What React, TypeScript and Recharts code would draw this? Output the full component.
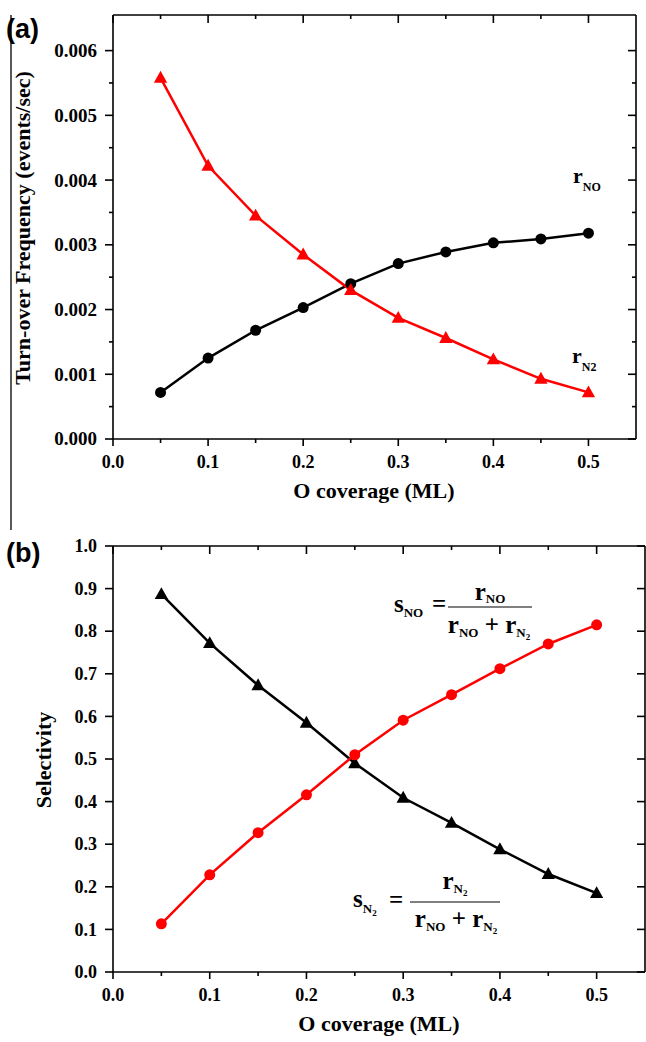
import React from 'react';
import { LineChart, Line, XAxis, YAxis } from 'recharts';

// O coverage (ML)
const coverage = [0.05, 0.1, 0.15, 0.2, 0.25, 0.3, 0.35, 0.4, 0.45, 0.5];

// (a) turn-over frequency, events/sec
const rNO = [0.00072, 0.00125, 0.00168, 0.00203, 0.0024, 0.00271, 0.00289, 0.00303, 0.00309, 0.00318];
const rN2 = [0.00558, 0.00422, 0.00345, 0.00285, 0.0023, 0.00187, 0.00156, 0.00123, 0.00093, 0.00072];

// (b) selectivity
const sNO = [0.113, 0.228, 0.327, 0.416, 0.51, 0.591, 0.651, 0.712, 0.77, 0.815];
const sN2 = [0.887, 0.772, 0.673, 0.585, 0.49, 0.409, 0.35, 0.288, 0.23, 0.185];

const xTicks = [0, 0.05, 0.1, 0.15, 0.2, 0.25, 0.3, 0.35, 0.4, 0.45, 0.5];
const tofTicks = [0, 0.0005, 0.001, 0.0015, 0.002, 0.0025, 0.003, 0.0035, 0.004, 0.0045, 0.005, 0.0055, 0.006];
const selTicks = [0, 0.05, 0.1, 0.15, 0.2, 0.25, 0.3, 0.35, 0.4, 0.45, 0.5, 0.55, 0.6, 0.65, 0.7, 0.75, 0.8, 0.85, 0.9, 0.95, 1.0];

const topData = coverage.map((x, i) => ({ x, rNO: rNO[i], rN2: rN2[i] }));
const bottomData = coverage.map((x, i) => ({ x, sNO: sNO[i], sN2: sN2[i] }));

const SERIF = '"Liberation Serif", "Times New Roman", serif';
const RED = '#ff0000';
const axisLine = { stroke: '#000', strokeWidth: 1.6 };

const isMajorX = (v: number) => Math.round(v * 100) % 10 === 0;
const isMajorTof = (v: number) => Math.round(v * 10000) % 10 === 0;
const xFmt = (v: number) => v.toFixed(1);
const tofFmt = (v: number) => v.toFixed(3);

type Side = 'left' | 'right' | 'top' | 'bottom';

// draws major/minor tick marks (and labels on majors) from the axis' own tick positions
const makeTick = (side: Side, isMajor: (v: number) => boolean, fmt?: (v: number) => string, fontSize = 18) =>
  (props: any) => {
    const { x, y, payload, index } = props;
    const v = payload.value;
    const major = isMajor(v);
    const len = major ? 8 : 4;
    const ln = { stroke: '#000', strokeWidth: 1.6 };
    const txt = { fill: '#000', fontSize, fontWeight: 'bold' as const, style: { fontFamily: SERIF } };
    let line;
    let label = null;
    if (side === 'left') {
      line = <line x1={x - len} y1={y} x2={x} y2={y} {...ln} />;
      if (fmt && major) label = <text x={x - 16} y={y} dy="0.34em" textAnchor="end" {...txt}>{fmt(v)}</text>;
    } else if (side === 'right') {
      line = <line x1={x - len} y1={y} x2={x} y2={y} {...ln} />;
    } else if (side === 'top') {
      line = <line x1={x} y1={y} x2={x} y2={y + len} {...ln} />;
    } else {
      line = <line x1={x} y1={y} x2={x} y2={y + (major ? 7 : 4)} {...ln} />;
      if (fmt && major) label = <text x={x} y={y + 29} textAnchor="middle" {...txt}>{fmt(v)}</text>;
    }
    return (
      <g key={`${side}-${index}`}>
        {line}
        {label}
      </g>
    );
  };

const circleDot = (color: string) => (props: any) => (
  <circle key={`c${props.index}`} cx={props.cx} cy={props.cy} r={5.5} fill={color} stroke="none" />
);

const triangleDot = (color: string) => (props: any) => {
  const { cx, cy } = props;
  const s = 7;
  return (
    <polygon
      key={`t${props.index}`}
      points={`${cx},${cy - s} ${cx + s * 0.95},${cy + s * 0.7} ${cx - s * 0.95},${cy + s * 0.7}`}
      fill={color}
    />
  );
};

function axes(yDomain: [number, number], yTicks: number[], isMajorY: (v: number) => boolean,
  yFmt: (v: number) => string, yFont: number, xAxisHeight: number) {
  return [
    <XAxis
      key="xb"
      dataKey="x"
      type="number"
      domain={[0, 0.55]}
      ticks={xTicks}
      allowDataOverflow
      height={xAxisHeight}
      tickSize={0}
      tickMargin={0}
      tickLine={false}
      tick={makeTick('bottom', isMajorX, xFmt)}
      axisLine={axisLine}
    />,
    <XAxis
      key="xt"
      xAxisId="top"
      dataKey="x"
      type="number"
      orientation="top"
      domain={[0, 0.55]}
      ticks={xTicks}
      allowDataOverflow
      height={1}
      mirror
      tickSize={0}
      tickMargin={0}
      tickLine={false}
      tick={makeTick('top', isMajorX)}
      axisLine={axisLine}
    />,
    <YAxis
      key="yl"
      type="number"
      domain={yDomain}
      ticks={yTicks}
      allowDataOverflow
      width={113}
      tickSize={0}
      tickMargin={0}
      tickLine={false}
      tick={makeTick('left', isMajorY, yFmt, yFont)}
      axisLine={axisLine}
    />,
    <YAxis
      key="yr"
      yAxisId="right"
      type="number"
      orientation="right"
      domain={yDomain}
      ticks={yTicks}
      allowDataOverflow
      width={1}
      mirror
      tickSize={0}
      tickMargin={0}
      tickLine={false}
      tick={makeTick('right', isMajorY)}
      axisLine={axisLine}
    />,
  ];
}

function TopChart() {
  return (
    <LineChart width={646} height={500} data={topData} margin={{ top: 15, right: 10, bottom: 0, left: 0 }}>
      {axes([0, 0.00655], tofTicks, isMajorTof, tofFmt, 19, 61)}
      <Line dataKey="rNO" stroke="#000" strokeWidth={2.5} dot={circleDot('#000')} isAnimationActive={false} />
      <Line dataKey="rN2" stroke={RED} strokeWidth={2.5} dot={triangleDot(RED)} isAnimationActive={false} />
      <Line xAxisId="top" yAxisId="right" dataKey="rNO" stroke="none" dot={false} activeDot={false} isAnimationActive={false} />
    </LineChart>
  );
}

function BottomChart() {
  return (
    <LineChart width={646} height={542} data={bottomData} margin={{ top: 46, right: 1, bottom: 0, left: 0 }}>
      {axes([0, 1], selTicks, isMajorX, xFmt, 18, 70)}
      <Line dataKey="sN2" stroke="#000" strokeWidth={2.5} dot={triangleDot('#000')} isAnimationActive={false} />
      <Line dataKey="sNO" stroke={RED} strokeWidth={2.5} dot={circleDot(RED)} isAnimationActive={false} />
      <Line xAxisId="top" yAxisId="right" dataKey="sNO" stroke="none" dot={false} activeDot={false} isAnimationActive={false} />
    </LineChart>
  );
}

function Annotations() {
  const t = { fontWeight: 'bold' as const, fill: '#000', style: { fontFamily: SERIF } };
  const sans = { fontWeight: 'bold' as const, fill: '#000', style: { fontFamily: '"Liberation Sans", Arial, sans-serif' } };
  return (
    <svg width={646} height={1042} style={{ position: 'absolute', left: 0, top: 0, pointerEvents: 'none' }}>
      <line x1={11} y1={15} x2={11} y2={530} stroke="#222" strokeWidth={1.5} />
      <text {...sans} x={6} y={38} fontSize={27}>(a)</text>
      <text {...sans} x={6} y={562} fontSize={27}>(b)</text>

      <text {...t} fontSize={22} textAnchor="middle" transform="translate(30,228) rotate(-90)">
        Turn-over Frequency (events/sec)
      </text>
      <text {...t} fontSize={22} textAnchor="middle" x={374} y={498}>O coverage (ML)</text>
      <text {...t} fontSize={22} textAnchor="middle" transform="translate(51,760) rotate(-90)">Selectivity</text>
      <text {...t} fontSize={22} textAnchor="middle" x={379} y={1031}>O coverage (ML)</text>

      <text {...t} fontSize={22} x={573} y={183}>
        r<tspan fontSize={12} dy={8}>NO</tspan>
      </text>
      <text {...t} fontSize={22} x={572} y={363}>
        r<tspan fontSize={12} dy={8}>N2</tspan>
      </text>

      {/* s_NO = r_NO / (r_NO + r_N2) */}
      <text {...t} fontSize={25} x={394} y={612}>
        s<tspan fontSize={13} dy={5}>NO</tspan>
      </text>
      <text {...t} fontSize={25} x={432} y={612}>=</text>
      <line x1={448} y1={607} x2={532} y2={607} stroke="#000" strokeWidth={1} />
      <text {...t} fontSize={25} x={490} y={600} textAnchor="middle">
        r<tspan fontSize={13} dy={3}>NO</tspan>
      </text>
      <text {...t} fontSize={25} x={489} y={633} textAnchor="middle">
        r<tspan fontSize={13} dy={4}>NO</tspan>
        <tspan dy={-4}> + r</tspan>
        <tspan fontSize={13} dy={4}>N</tspan>
        <tspan fontSize={9} dy={3}>2</tspan>
      </text>

      {/* s_N2 = r_N2 / (r_NO + r_N2) */}
      <text {...t} fontSize={25} x={353} y={907}>
        s<tspan fontSize={13} dy={6}>N</tspan>
        <tspan fontSize={9} dy={3}>2</tspan>
      </text>
      <text {...t} fontSize={25} x={389} y={908}>=</text>
      <line x1={410} y1={902} x2={500} y2={902} stroke="#000" strokeWidth={1} />
      <text {...t} fontSize={25} x={455} y={889} textAnchor="middle">
        r<tspan fontSize={13} dy={4}>N</tspan>
        <tspan fontSize={9} dy={3}>2</tspan>
      </text>
      <text {...t} fontSize={25} x={456} y={927} textAnchor="middle">
        r<tspan fontSize={13} dy={4}>NO</tspan>
        <tspan dy={-4}> + r</tspan>
        <tspan fontSize={13} dy={4}>N</tspan>
        <tspan fontSize={9} dy={3}>2</tspan>
      </text>
    </svg>
  );
}

export default function App() {
  return (
    <div style={{ position: 'absolute', left: 0, top: 0, width: 646, height: 1042, background: '#fff', fontFamily: SERIF }}>
      <div style={{ position: 'absolute', left: 0, top: 0 }}>
        <TopChart />
      </div>
      <div style={{ position: 'absolute', left: 0, top: 500 }}>
        <BottomChart />
      </div>
      <Annotations />
    </div>
  );
}
